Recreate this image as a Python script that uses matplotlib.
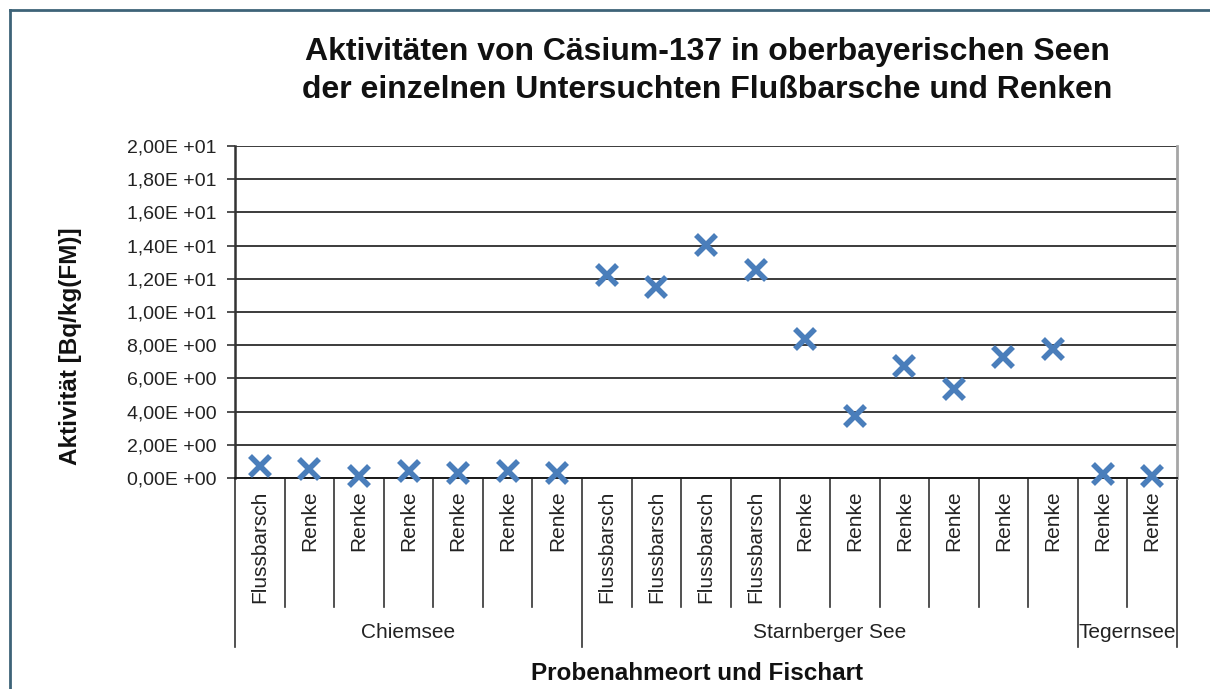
import matplotlib
matplotlib.use('Agg')
import matplotlib.pyplot as plt
from matplotlib.lines import Line2D
from matplotlib.ticker import FuncFormatter
import numpy as np

plt.rcParams['font.family'] = ['Liberation Sans', 'DejaVu Sans']

# data
fish = ['Flussbarsch', 'Renke', 'Renke', 'Renke', 'Renke', 'Renke', 'Renke',
        'Flussbarsch', 'Flussbarsch', 'Flussbarsch', 'Flussbarsch',
        'Renke', 'Renke', 'Renke', 'Renke', 'Renke', 'Renke',
        'Renke', 'Renke']
activity = [0.70, 0.54, 0.14, 0.40, 0.30, 0.40, 0.30,
            12.25, 11.51, 14.05, 12.51,
            8.37, 3.76, 6.74, 5.35, 7.27, 7.75,
            0.24, 0.14]
lakes = ['Chiemsee', 'Starnberger See', 'Tegernsee']
lake_counts = [7, 10, 2]

W, H = 1210, 689
fig = plt.figure(figsize=(W / 100, H / 100), dpi=100, facecolor='white')
ax = fig.add_axes([235 / W, 1 - 478 / H, (1177 - 235) / W, (478 - 146) / H])

n = len(fish)
x = np.arange(n) + 0.5
ax.plot(x, activity, linestyle='none', marker='x', markersize=14.5,
        markeredgewidth=4, color='#4A7EBB', clip_on=False, zorder=5)

ax.set_xlim(0, n)
ax.set_ylim(0, 20)
ax.set_yticks(np.arange(0, 21, 2))
ax.yaxis.set_major_formatter(FuncFormatter(lambda v, p: ('%.2E' % v).replace('.', ',').replace('E', 'E ')))
ax.grid(axis='y', color='#1a1a1a', linewidth=1.2)
ax.set_axisbelow(True)
ax.set_xticks([])
ax.tick_params(axis='y', direction='out', length=6, width=1.2, color='#333333',
               labelsize=14, labelcolor='#222222', pad=7)

ax.spines['top'].set_visible(False)
ax.spines['left'].set_color('#333333')
ax.spines['left'].set_linewidth(1.8)
ax.spines['bottom'].set_color('#1a1a1a')
ax.spines['bottom'].set_linewidth(1.4)
ax.spines['right'].set_color('#a6a6a6')
ax.spines['right'].set_linewidth(2)

# category labels and separators
trans = ax.get_xaxis_transform()
inner_y = -(607 - 478) / 332
outer_y = -(647 - 478) / 332
for i, name in enumerate(fish):
    ax.text(i + 0.5, -0.038, name, rotation=90, ha='center', va='top',
            fontsize=15, color='#222222', transform=trans)

bounds = np.cumsum([0] + lake_counts)
for b in range(1, n):
    if b not in bounds:
        ax.plot([b, b], [0, inner_y], color='#333333', lw=1.2,
                transform=trans, clip_on=False)
for b in bounds:
    ax.plot([b, b], [0, outer_y], color='#333333', lw=1.2,
            transform=trans, clip_on=False)
for k, lake in enumerate(lakes):
    cx = (bounds[k] + bounds[k + 1]) / 2
    ax.text(cx, -(633 - 478) / 332, lake, ha='center', va='center',
            fontsize=15, color='#222222', transform=trans)

# titles
fig.text(707 / W, 1 - 71 / H,
         'Aktivitäten von Cäsium-137 in oberbayerischen Seen\n'
         'der einzelnen Untersuchten Flußbarsche und Renken',
         ha='center', va='center', fontsize=23, fontweight='bold',
         linespacing=1.38, color='#111111')
fig.text(70 / W, 1 - 346 / H, 'Aktivität [Bq/kg(FM)]', rotation=90,
         ha='center', va='center', fontsize=17.5, fontweight='bold', color='#111111')
fig.text(697 / W, 1 - 673 / H, 'Probenahmeort und Fischart',
         ha='center', va='center', fontsize=17.5, fontweight='bold', color='#111111')

# outer chart frame (left and top edges visible)
fig.add_artist(Line2D([10 / W, 10 / W], [0, 1 - 10 / H], color='#3D6378', lw=2))
fig.add_artist(Line2D([10 / W, 1], [1 - 10 / H, 1 - 10 / H], color='#3D6378', lw=2))

fig.savefig('out.png', dpi=100, facecolor='white')
